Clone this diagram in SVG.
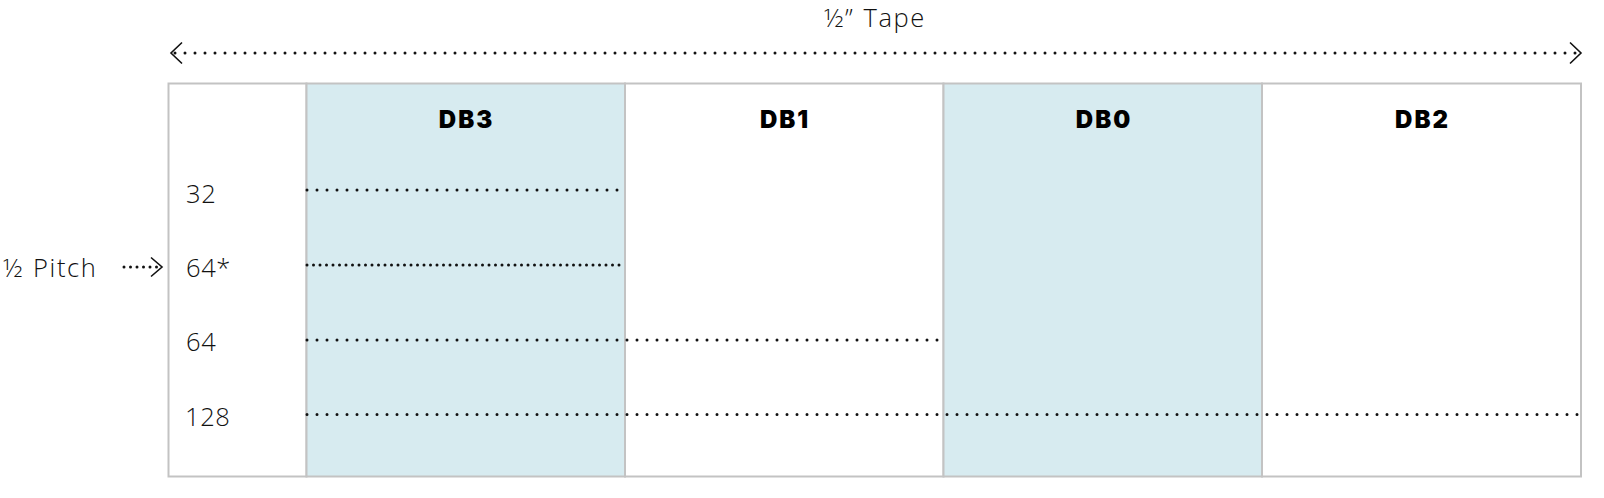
<svg xmlns="http://www.w3.org/2000/svg" width="1604" height="498" viewBox="0 0 1604 498">
<style>
.lbl{font-family:"Open Sans","Liberation Sans",sans-serif;font-weight:300;font-size:25.5px;fill:#111;letter-spacing:0.6px}
.wide{letter-spacing:1.6px;word-spacing:1px}
.hdr{font-family:Inter,"Liberation Sans",sans-serif;font-weight:900;font-size:24px;fill:#000;text-anchor:middle;letter-spacing:2px}
.cell{stroke:#c3c3c3;stroke-width:2}
.dot{stroke:#111;stroke-width:3;stroke-linecap:round;stroke-dasharray:0 10;fill:none}
.dot2{stroke:#111;stroke-width:3;stroke-linecap:round;stroke-dasharray:0 6.5;fill:none}
.chev{stroke:#111;stroke-width:1.6;fill:none}
</style>
<rect width="1604" height="498" fill="#fff"/>
<g id="table">
<rect class="cell" x="168.5" y="83.5" width="138" height="393" fill="#fff"/>
</g>
<g id="DB3">
<rect class="cell" x="306.5" y="83.5" width="318.5" height="393" fill="#d7ebf0"/>
<text class="hdr" x="466.5" y="128">DB3</text>
</g>
<g id="DB1">
<rect class="cell" x="625" y="83.5" width="318.5" height="393" fill="#fff"/>
<text class="hdr" x="785" y="128">DB1</text>
</g>
<g id="DB0">
<rect class="cell" x="943.5" y="83.5" width="318.5" height="393" fill="#d7ebf0"/>
<text class="hdr" x="1104" y="128">DB0</text>
</g>
<g id="DB2">
<rect class="cell" x="1262" y="83.5" width="319" height="393" fill="#fff"/>
<text class="hdr" x="1422.5" y="128">DB2</text>
</g>
<g id="labels">
<text class="lbl wide" x="875" y="27" text-anchor="middle">½” Tape</text>
<text class="lbl" x="186" y="203">32</text>
<text class="lbl" x="186" y="277">64*</text>
<text class="lbl" x="186" y="351">64</text>
<text class="lbl" x="185" y="426">128</text>
<text class="lbl wide" x="3" y="277">½ Pitch</text>
</g>
<g id="connectors">
<path class="dot" d="M175 53 H1577"/>
<path class="chev" d="M182 42.5 L171 53 L182 63.5"/>
<path class="chev" d="M1570 42.5 L1581 53 L1570 63.5"/>
<path class="dot2" d="M124 267 H158"/>
<path class="chev" d="M151 257.5 L162 267 L151 276.5"/>
<path class="dot" d="M307 190 H625"/>
<path class="dot2" d="M307 265 H625"/>
<path class="dot" d="M307 340 H943"/>
<path class="dot" d="M307 414.5 H1580"/>
</g>
</svg>
